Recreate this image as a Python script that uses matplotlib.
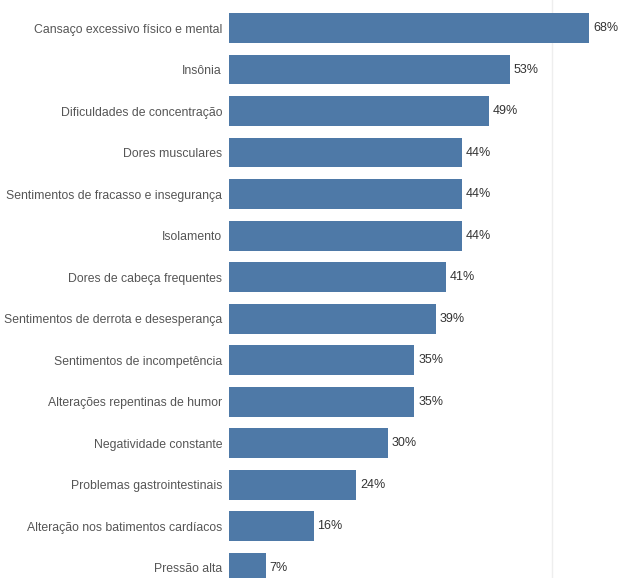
import matplotlib.pyplot as plt

categories = [
    "Cansaço excessivo físico e mental",
    "Insônia",
    "Dificuldades de concentração",
    "Dores musculares",
    "Sentimentos de fracasso e insegurança",
    "Isolamento",
    "Dores de cabeça frequentes",
    "Sentimentos de derrota e desesperança",
    "Sentimentos de incompetência",
    "Alterações repentinas de humor",
    "Negatividade constante",
    "Problemas gastrointestinais",
    "Alteração nos batimentos cardíacos",
    "Pressão alta",
]
values = [68, 53, 49, 44, 44, 44, 41, 39, 35, 35, 30, 24, 16, 7]

plt.rcParams["font.family"] = ["Liberation Sans", "DejaVu Sans"]

fig = plt.figure(figsize=(6.2, 5.78), dpi=100)
ax = fig.add_axes([229 / 620, 0, 1 - 229 / 620, 1])

y = list(range(len(categories)))
ax.barh(y, values, height=0.72, color="#4e79a7", zorder=2)

# value labels right of bars
for yi, v in zip(y, values):
    ax.text(v + 0.7, yi, f"{v}%", va="center", ha="left", fontsize=9, color="#333333")

ax.set_xlim(0, 73.8)
ax.set_ylim(13.25, -0.675)

ax.set_yticks(y)
ax.set_yticklabels(categories, fontsize=8.8, color="#555555")
ax.tick_params(axis="y", length=0, pad=5)
ax.set_xticks([61])
ax.tick_params(axis="x", length=0, labelbottom=False)
ax.grid(axis="x", color="#eeeeee", linewidth=1, zorder=0)
for s in ax.spines.values():
    s.set_visible(False)

plt.savefig("out.png", dpi=100)
